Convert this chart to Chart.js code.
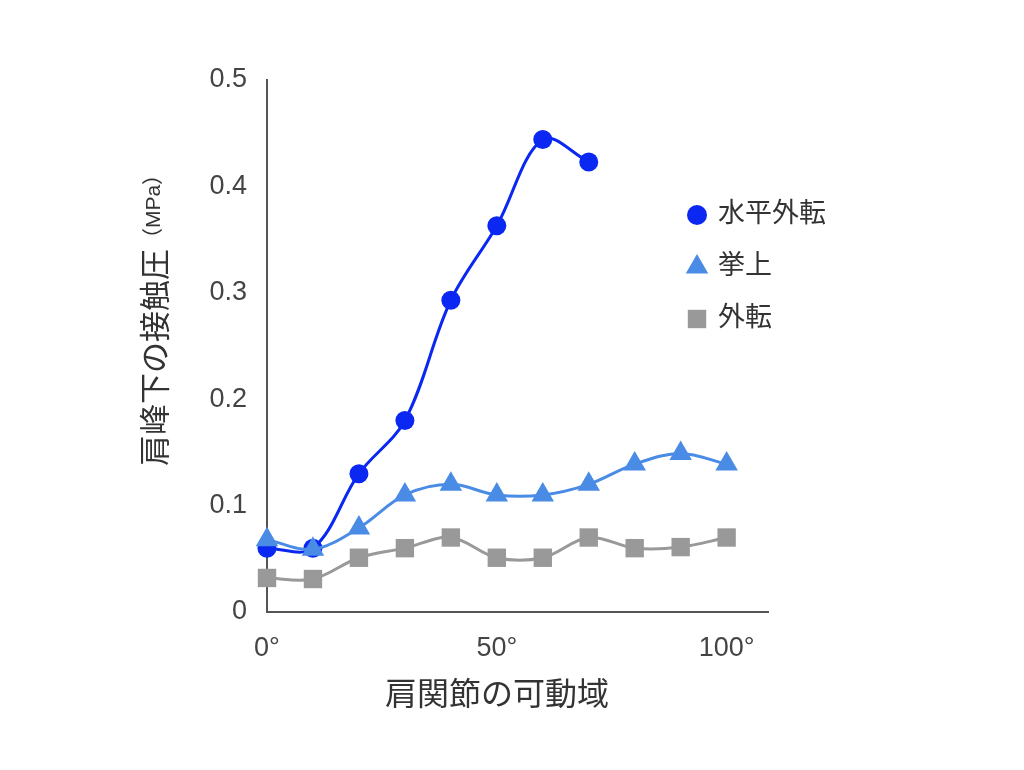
<!DOCTYPE html>
<html>
<head>
<meta charset="utf-8">
<script src="https://cdn.jsdelivr.net/npm/chart.js@4.4.1/dist/chart.umd.min.js"></script>
<style>
  html, body { margin: 0; padding: 0; background: #fff; }
  #wrap { width: 1024px; height: 770px; }
</style>
</head>
<body>
<div id="wrap"><canvas id="chart" width="1024" height="770"></canvas></div>
<script>
const FONT = "'Liberation Sans', 'Noto Sans CJK JP', sans-serif";

const angles = [0, 10, 20, 30, 40, 50, 60, 70, 80, 90, 100];
const horizAbduction = [0.06, 0.06, 0.13, 0.18, 0.293, 0.363, 0.444, 0.423];
const elevation = [0.068, 0.059, 0.079, 0.11, 0.12, 0.11, 0.11, 0.12, 0.139, 0.149, 0.139];
const abduction = [0.032, 0.031, 0.051, 0.06, 0.07, 0.051, 0.051, 0.07, 0.06, 0.061, 0.07];

const seriesNames = ["水平外転", "挙上", "外転"];
const seriesColors = ["#0a28f2", "#4a8be6", "#999999"];
const seriesShapes = ["circle", "triangle", "rect"];
const pointSizes = [9.5, 13, 13];
const xTitle = "肩関節の可動域";
const yTitle = "肩峰下の接触圧";
const yUnit = "（MPa）";

const toPoints = (vals) => vals.map((v, i) => ({ x: angles[i], y: v }));
const valueSets = [horizAbduction, elevation, abduction];

// axis titles and the legend are placed by hand, like the original
const overlay = {
  id: "overlay",
  afterDraw(chart) {
    const ctx = chart.ctx;
    ctx.save();
    ctx.fillStyle = "#333";
    ctx.textBaseline = "middle";

    // x title
    ctx.font = "32px " + FONT;
    ctx.textAlign = "center";
    ctx.fillText(xTitle, 497, 696);

    // y title, unit in smaller type
    ctx.translate(157, 315);
    ctx.rotate(-Math.PI / 2);
    ctx.font = "31px " + FONT;
    const w1 = ctx.measureText(yTitle).width;
    ctx.font = "21px " + FONT;
    const w2 = ctx.measureText(yUnit).width;
    const start = -(w1 + w2) / 2;
    ctx.textAlign = "left";
    ctx.font = "31px " + FONT;
    ctx.fillText(yTitle, start, 0);
    ctx.font = "21px " + FONT;
    ctx.fillText(yUnit, start + w1, -3);
    ctx.restore();

    // legend
    ctx.save();
    seriesNames.forEach((name, i) => {
      const y = 215 + i * 52;
      ctx.fillStyle = seriesColors[i];
      ctx.strokeStyle = seriesColors[i];
      Chart.helpers.drawPoint(ctx, { pointStyle: seriesShapes[i], radius: i === 0 ? 10 : 13, borderWidth: 0 }, 697, y);
      ctx.fillStyle = "#333";
      ctx.font = "27px " + FONT;
      ctx.textAlign = "left";
      ctx.textBaseline = "middle";
      ctx.fillText(name, 718, y);
    });
    ctx.restore();
  }
};

new Chart(document.getElementById("chart"), {
  type: "line",
  data: {
    datasets: valueSets.map((vals, i) => ({
      label: seriesNames[i],
      data: toPoints(vals),
      borderColor: seriesColors[i],
      backgroundColor: seriesColors[i],
      borderWidth: 3,
      pointStyle: seriesShapes[i],
      pointRadius: pointSizes[i],
      pointBorderWidth: 0,
      tension: 0.35,
      clip: false,
      order: 2 - i // first series at the bottom
    }))
  },
  options: {
    responsive: false,
    animation: false,
    layout: { padding: { top: 80, right: 256, left: 0, bottom: 0 } },
    plugins: { legend: { display: false }, tooltip: { enabled: false } },
    scales: {
      x: {
        type: "linear",
        min: 0,
        max: 109,
        afterFit: (s) => { s.height = 158; },
        afterBuildTicks: (s) => { s.ticks = [{ value: 0 }, { value: 50 }, { value: 100 }]; },
        grid: { display: false, drawTicks: false },
        border: { color: "#555", width: 2 },
        ticks: {
          padding: 20,
          color: "#444",
          font: { family: FONT, size: 27 },
          callback: (v) => v + "°"
        }
      },
      y: {
        min: 0,
        max: 0.5,
        afterFit: (s) => { s.width = 267; },
        grid: { display: false, drawTicks: false },
        border: { color: "#555", width: 2 },
        ticks: {
          stepSize: 0.1,
          padding: 20,
          color: "#444",
          font: { family: FONT, size: 27 },
          callback: (v) => (v === 0 ? "0" : Number(v.toFixed(1)).toString())
        }
      }
    }
  },
  plugins: [overlay]
});
</script>
</body>
</html>
